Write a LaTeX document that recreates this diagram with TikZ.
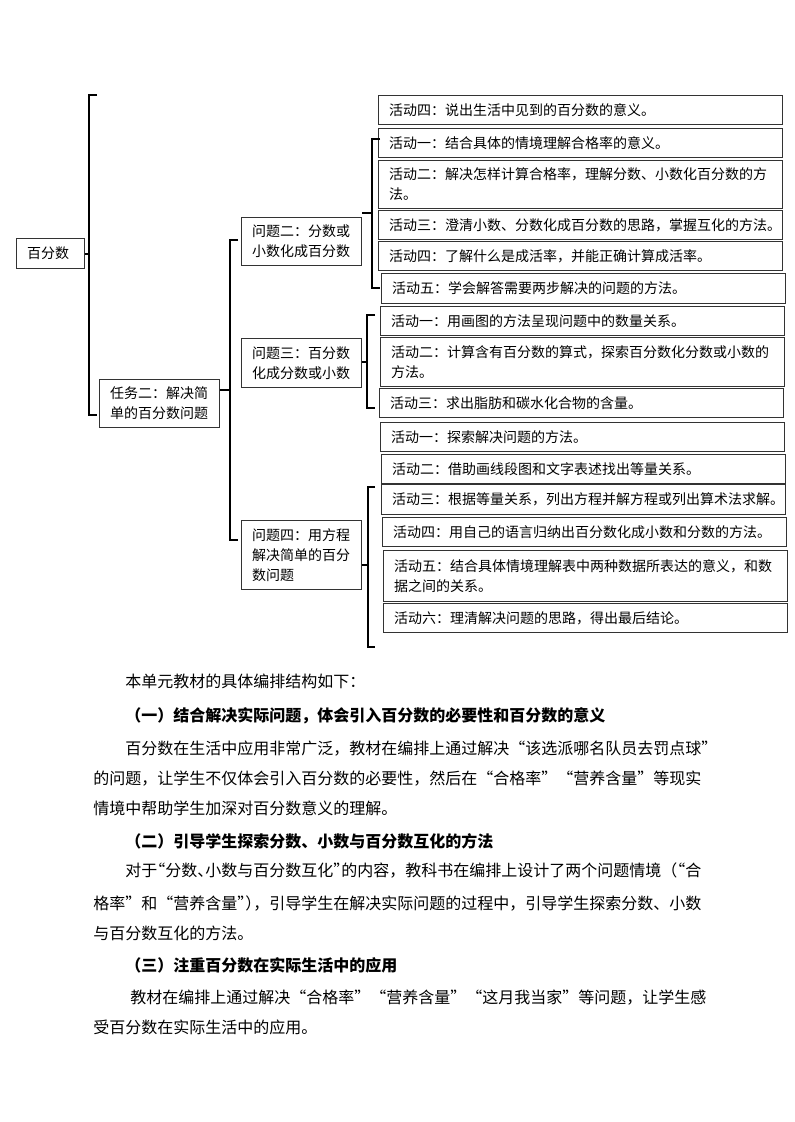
\documentclass[tikz,border=0pt]{standalone}
\usepackage{fontspec}
\setmainfont{Noto Sans CJK SC}
\usetikzlibrary{calc}
\def\bracket(#1:#2:#3:#4){\draw[brace] (#4,#2) -- (#1,#2) -- (#1,#3) -- (#4,#3);}
\def\hk{\kern-0.5em}
\tikzset{
	box/.style={draw=black!80, line width=0.75pt, inner xsep=8pt, inner ysep=2pt, align=left, anchor=north west, font=\fontsize{10.5pt}{15pt}\selectfont},
	act/.style={box, text width=287pt, minimum height=21.75pt},
	prob/.style={box, text width=74pt},
	brace/.style={line width=1.1pt},
	body/.style={anchor=base west, inner sep=0pt, font=\fontsize{12pt}{15pt}\selectfont},
	head/.style={anchor=base west, inner sep=0pt, font=\fontsize{12pt}{15pt}\selectfont\bfseries},
}

\begin{document}
\begin{tikzpicture}[x=0.75pt, y=-0.75pt]
		\useasboundingbox (0,0) rectangle (794,1122);
		%%%%% TREE %%%%%
		\node[box, text width=35pt, minimum height=22.5pt] (bfs) at (16,238) {百分数};
		\node[prob, minimum height=36pt] (task2) at (99,379) {任务二：解决简\\单的百分数问题};
		\node[prob, minimum height=36pt] (q2) at (241,217) {问题二：分数或\\小数化成百分数};
		\node[prob, minimum height=36.75pt] (q3) at (241,338) {问题三：百分数\\化成分数或小数};
		\node[prob, minimum height=51.75pt] (q4) at (241,520) {问题四：用方程\\解决简单的百分\\数问题};
		
		\node[act] (a0) at (378,95) {活动四：说出生活中见到的百分数的意义。};
		\node[act] (a1) at (378,128) {活动一：结合具体的情境理解合格率的意义。};
		\node[act, minimum height=36pt] (a2) at (378,160) {活动二：解决怎样计算合格率，理解分数、小数化百分数的方\\法。};
		\node[act] (a3) at (378,210) {活动三：澄清小数、分数化成百分数的思路，掌握互化的方法。};
		\node[act] (a4) at (378,241) {活动四：了解什么是成活率，并能正确计算成活率。};
		\node[act, minimum height=22.5pt] (a5) at (381,273) {活动五：学会解答需要两步解决的问题的方法。};
		
		\node[act] (b1) at (380,306) {活动一：用画图的方法呈现问题中的数量关系。};
		\node[act, minimum height=36.75pt] (b2) at (380,337) {活动二：计算含有百分数的算式，探索百分数化分数或小数的\\方法。};
		\node[act] (b3) at (379,388) {活动三：求出脂肪和碳水化合物的含量。};
		
		\node[act] (c1) at (380,422) {活动一：探索解决问题的方法。};
		\node[act] (c2) at (381,454) {活动二：借助画线段图和文字表述找出等量关系。};
		\node[act, minimum height=22.5pt] (c3) at (381,484) {活动三：根据等量关系，列出方程并解方程或列出算术法求解。};
		\node[act] (c4) at (382,517) {活动四：用自己的语言归纳出百分数化成小数和分数的方法。};
		\node[act, minimum height=38.25pt] (c5) at (383,550) {活动五：结合具体情境理解表中两种数据所表达的意义，和数\\据之间的关系。};
		\node[act] (c6) at (383,603) {活动六：理清解决问题的思路，得出最后结论。};
		
		% brackets
		\bracket(89:95:415:97);
		\bracket(230:240:540:238);
		\bracket(372:139:288:380);
		\bracket(367:315:408:375);
		\bracket(368:487:647:375);
		\coordinate (m0) at (89,254);
		\coordinate (m1) at (230,390);
		\coordinate (m2) at (372,213);
		\coordinate (m3) at (367,362);
		\coordinate (m4) at (368,565);
		\draw[brace] (bfs.east |- m0) -- (m0);
		\draw[brace] (task2.east |- m1) -- (m1);
		\draw[brace] (q2.east |- m2) -- (m2);
		\draw[brace] (q3.east |- m3) -- (m3);
		\draw[brace] (q4.east |- m4) -- (m4);
		
		%%%%% TEXT %%%%%
		\node[body] (t1) at (125,687) {本单元教材的具体编排结构如下：};
		\node[head] (t2) at (125,721) {（一）结合解决实际问题，体会引入百分数的必要性和百分数的意义};
		\node[body] (t3) at (125,754) {百分数在生活中应用非常广泛，教材在编排上通过解决“该选派哪名队员去罚点球”};
		\node[body] (t4) at (93,784) {的问题，让学生不仅体会引入百分数的必要性，然后在“合格率”“营养含量”等现实};
		\node[body] (t5) at (93,814) {情境中帮助学生加深对百分数意义的理解。};
		\node[head] (t6) at (125,847) {（二）引导学生探索分数、小数与百分数互化的方法};
		\node[body] (t7) at (125,876) {对于\hk{}“分数、\hk{}小数与百分数互化”\hk{}的内容，教科书在编排上设计了两个问题情境（\hk{}“合};
		\node[body] (t8) at (93,909) {格率”和“营养含量”\hk{}）\hk{}，引导学生在解决实际问题的过程中，引导学生探索分数、小数};
		\node[body] (t9) at (93,939) {与百分数互化的方法。};
		\node[head] (t10) at (125,971) {（三）注重百分数在实际生活中的应用};
		\node[body] (t11) at (130,1003) {教材在编排上通过解决“合格率”“营养含量”“这月我当家”等问题，让学生感};
		\node[body] (t12) at (93,1033) {受百分数在实际生活中的应用。};
	\end{tikzpicture}
\end{document}
